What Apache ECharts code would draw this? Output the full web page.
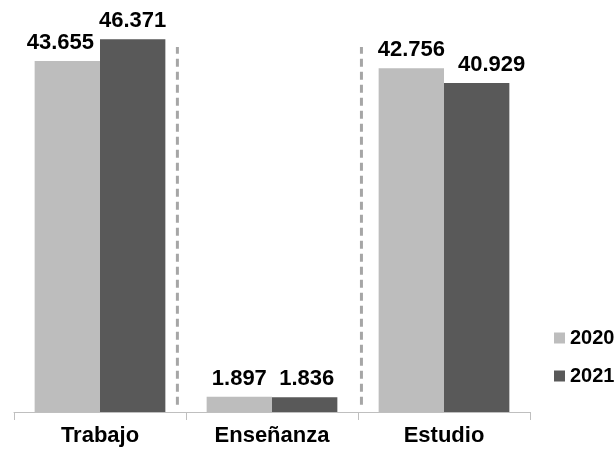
<!DOCTYPE html>
<html>
<head>
<meta charset="utf-8">
<script src="https://cdn.jsdelivr.net/npm/echarts@6/dist/echarts.min.js"></script>
<style>html,body{margin:0;padding:0;background:#fff}#c{width:615px;height:450px}</style>
</head>
<body>
<div id="c"></div>
<script>
var categories = ['Trabajo', 'Enseñanza', 'Estudio'];
var seriesNames = ['2020', '2021'];
var values2020 = [43.655, 1.897, 42.756];
var values2021 = [46.371, 1.836, 40.929];
var separatorX = [0.45, 1.52];
var separatorY = [0.9, 45.4];

function fmt(v) { return v.toFixed(3); }

var chart = echarts.init(document.getElementById('c'), null, {renderer: 'canvas'});
var labelShift2020 = [-7, 0, 0];
var labelShift2021 = [0, 2, 15];
var FONT = 'Liberation Sans, Arial, sans-serif';

function barData(vals, shifts) {
  return vals.map(function (v, i) {
    return {value: v, label: {offset: [shifts[i], 0]}};
  });
}

var labelStyle = {
  show: true, position: 'top', distance: 7,
  formatter: function (p) { return fmt(p.value); },
  color: '#000', fontWeight: 'bold', fontSize: 22, fontFamily: FONT
};

var sepSeries = separatorX.map(function (x) {
  return {
    type: 'line', xAxisIndex: 1, yAxisIndex: 0, silent: true, symbol: 'none',
    data: [[x, separatorY[0]], [x, separatorY[1]]],
    lineStyle: {color: '#a6a6a6', width: 3, type: [8, 5]},
    z: 1
  };
});

chart.setOption({
  animation: false,
  backgroundColor: '#fff',
  grid: {left: 14, right: 85, top: 10, bottom: 38},
  legend: {
    orient: 'vertical', left: 549, top: 322, itemWidth: 11, itemHeight: 11, itemGap: 16,
    icon: 'rect', data: seriesNames,
    textStyle: {color: '#000', fontWeight: 'bold', fontSize: 20, lineHeight: 22, fontFamily: FONT}
  },
  xAxis: [{
    type: 'category', data: categories,
    axisLine: {lineStyle: {color: '#bfbfbf', width: 1}},
    axisTick: {show: true, interval: 0, length: 8, lineStyle: {color: '#bfbfbf'}},
    axisLabel: {color: '#000', fontWeight: 'bold', fontSize: 22, margin: 13, fontFamily: FONT}
  }, {
    type: 'value', min: -0.5, max: 2.5, show: false
  }],
  yAxis: {type: 'value', min: 0, max: 50, show: false, splitLine: {show: false}},
  series: [{
    name: seriesNames[0], type: 'bar', barGap: 0, barCategoryGap: '24%',
    itemStyle: {color: '#bdbdbd'},
    label: labelStyle,
    data: barData(values2020, labelShift2020)
  }, {
    name: seriesNames[1], type: 'bar', barGap: 0, barCategoryGap: '24%',
    itemStyle: {color: '#595959'},
    label: labelStyle,
    data: barData(values2021, labelShift2021)
  }].concat(sepSeries)
});
</script>
</body>
</html>
